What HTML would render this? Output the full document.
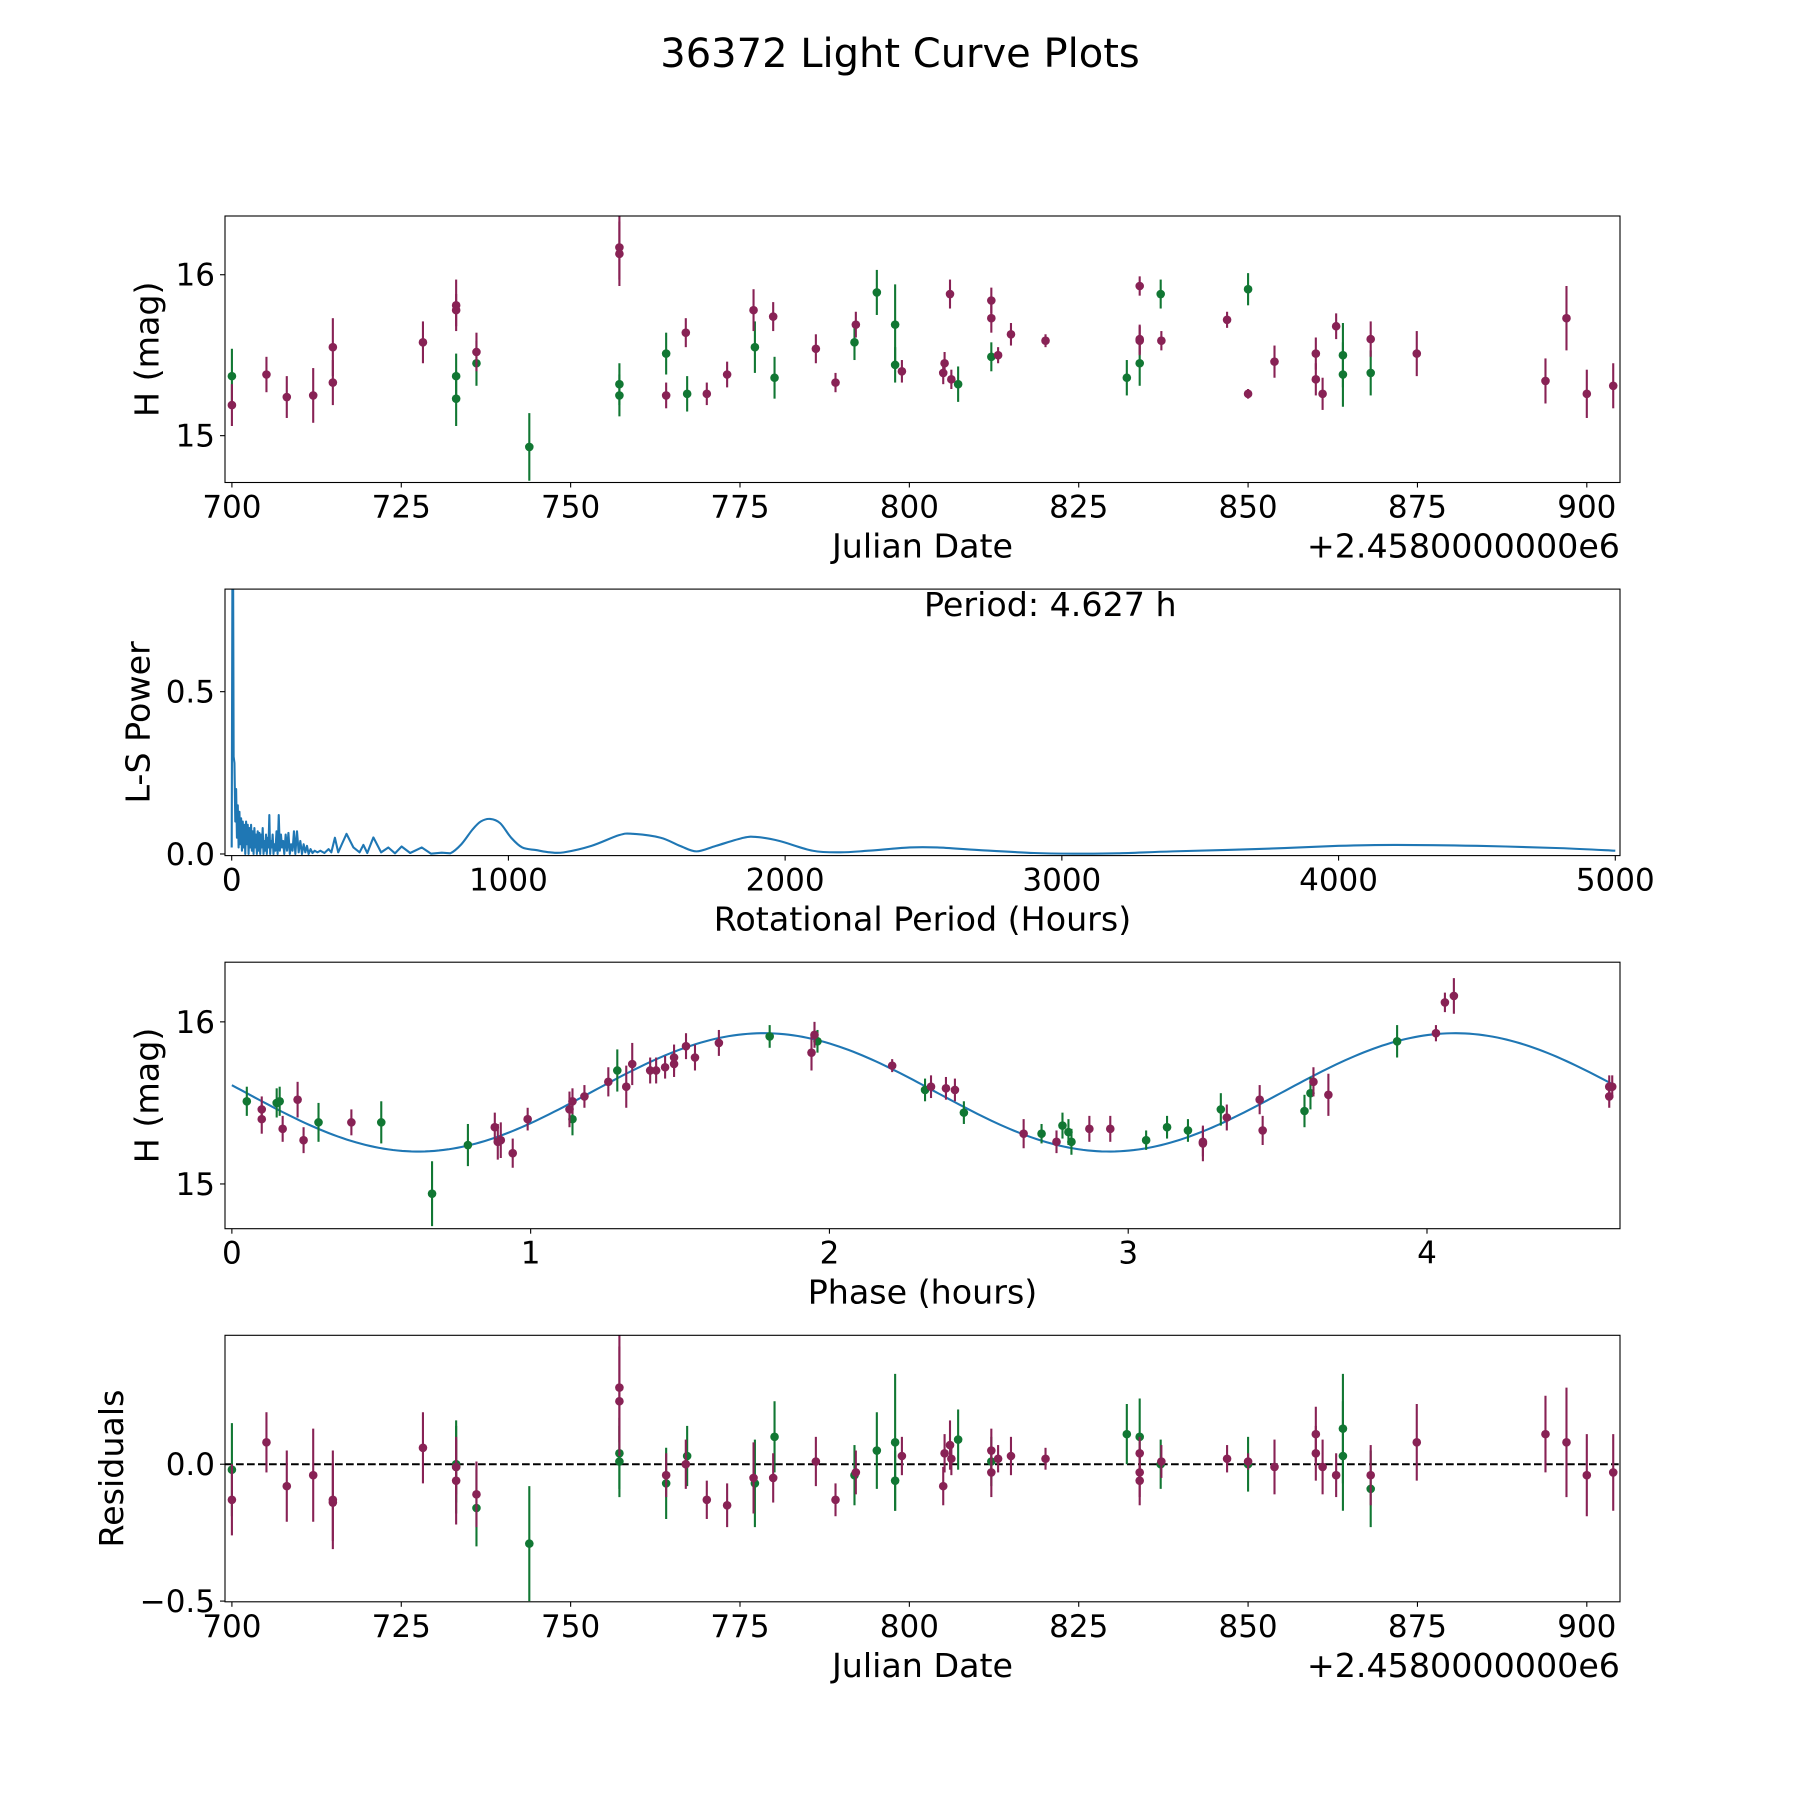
<!DOCTYPE html>
<html><head><meta charset="utf-8"><style>
html,body{margin:0;padding:0;background:#fff;}
svg{display:block;font-family:"DejaVu Sans","Liberation Sans",sans-serif;}
</style></head>
<body>
<svg id="fig" xmlns="http://www.w3.org/2000/svg" width="1800" height="1800" viewBox="0 0 1800 1800">
<rect x="0" y="0" width="1800" height="1800" fill="#fff"/>
<text x="900" y="67" font-size="40" text-anchor="middle">36372 Light Curve Plots</text>
</svg>
<script>
// ---------- Data: light curve (Julian Date offset, H mag, error) ----------
const greenDate = [700.0,733.1,733.1,736.1,743.9,757.2,757.2,764.1,767.2,777.2,780.1,791.9,795.2,797.9,797.9,807.2,812.1,832.1,834.0,837.1,850.0,864.0,864.0,868.1];
const greenMag  = [15.37,15.37,15.23,15.45,14.93,15.32,15.25,15.51,15.26,15.55,15.36,15.58,15.89,15.69,15.44,15.32,15.49,15.36,15.45,15.88,15.91,15.50,15.38,15.39];
const greenErr  = [0.17,0.14,0.17,0.14,0.21,0.13,0.13,0.13,0.11,0.16,0.13,0.11,0.14,0.25,0.11,0.11,0.09,0.11,0.14,0.09,0.10,0.20,0.20,0.14];
const greenRes  = [-0.02,0.0,-0.01,-0.16,-0.29,0.04,0.01,-0.07,0.03,-0.07,0.10,-0.04,0.05,0.08,-0.06,0.09,0.01,0.11,0.10,0.0,0.0,0.13,0.03,-0.09];

const purpleDate = [700.0,705.1,708.1,712.0,714.9,714.9,728.2,733.1,733.1,736.1,757.2,757.2,764.1,767.0,770.1,773.1,777.0,779.9,786.2,789.1,792.1,798.9,805.2,805.0,806.0,806.2,812.1,812.1,813.1,815.0,820.1,834.0,834.0,834.0,837.2,846.9,850.0,853.9,860.0,860.0,861.0,863.0,868.1,874.9,893.9,897.0,900.0,903.9];
const purpleMag  = [15.19,15.38,15.24,15.25,15.33,15.55,15.58,15.81,15.78,15.52,16.17,16.13,15.25,15.64,15.26,15.38,15.78,15.74,15.54,15.33,15.69,15.40,15.45,15.39,15.88,15.35,15.84,15.73,15.50,15.63,15.59,15.93,15.60,15.59,15.59,15.72,15.26,15.46,15.51,15.35,15.26,15.68,15.60,15.51,15.34,15.73,15.26,15.31];
const purpleErr  = [0.13,0.11,0.13,0.17,0.14,0.18,0.13,0.16,0.10,0.12,0.20,0.20,0.08,0.09,0.07,0.08,0.13,0.09,0.09,0.06,0.08,0.07,0.07,0.07,0.09,0.06,0.08,0.09,0.05,0.07,0.04,0.06,0.09,0.09,0.06,0.05,0.03,0.10,0.10,0.10,0.10,0.08,0.11,0.14,0.14,0.20,0.15,0.14];
const purpleRes  = [-0.13,0.08,-0.08,-0.04,-0.14,-0.13,0.06,-0.06,-0.01,-0.11,0.28,0.23,-0.04,0.0,-0.13,-0.15,-0.05,-0.05,0.01,-0.13,-0.03,0.03,0.04,-0.08,0.07,0.02,0.05,-0.03,0.02,0.03,0.02,0.04,-0.03,-0.06,0.01,0.02,0.01,-0.01,0.11,0.04,-0.01,-0.04,-0.04,0.08,0.11,0.08,-0.04,-0.03];

// ---------- Data: phased light curve ----------
const greenPhase = [0.05,0.15,0.16,0.29,0.50,0.79,0.67,1.14,1.29,1.80,1.96,2.32,2.45,2.71,2.78,2.81,2.80,3.06,3.13,3.20,3.31,3.59,3.61,3.90];
const greenPMag  = [15.51,15.50,15.51,15.38,15.38,15.24,14.94,15.40,15.70,15.91,15.88,15.58,15.44,15.31,15.36,15.26,15.32,15.27,15.35,15.33,15.46,15.45,15.56,15.88];
const greenPErr  = [0.09,0.09,0.09,0.12,0.13,0.13,0.20,0.10,0.13,0.07,0.07,0.07,0.07,0.06,0.08,0.08,0.08,0.06,0.07,0.07,0.10,0.10,0.10,0.10];
const purplePhase = [0.10,0.10,0.17,0.22,0.24,0.40,0.88,0.89,0.90,0.94,0.99,1.13,1.14,1.18,1.26,1.32,1.34,1.40,1.42,1.45,1.48,1.48,1.52,1.55,1.63,1.94,1.95,2.21,2.34,2.39,2.42,2.65,2.76,2.87,2.94,3.25,3.25,3.33,3.44,3.45,3.62,3.67,4.03,4.06,4.09,4.61,4.61,4.62];
const purplePMag  = [15.46,15.40,15.34,15.52,15.27,15.38,15.35,15.26,15.27,15.19,15.40,15.46,15.51,15.54,15.63,15.60,15.74,15.70,15.70,15.72,15.74,15.78,15.85,15.78,15.87,15.81,15.92,15.73,15.60,15.59,15.58,15.31,15.26,15.34,15.34,15.26,15.25,15.41,15.52,15.33,15.63,15.55,15.93,16.12,16.16,15.60,15.54,15.60];
const purplePErr  = [0.08,0.09,0.08,0.11,0.08,0.08,0.09,0.11,0.11,0.09,0.07,0.11,0.08,0.07,0.09,0.13,0.13,0.08,0.08,0.07,0.08,0.08,0.08,0.08,0.08,0.11,0.08,0.04,0.07,0.07,0.07,0.09,0.07,0.08,0.08,0.09,0.11,0.08,0.09,0.09,0.09,0.13,0.05,0.06,0.11,0.07,0.07,0.07];
// Fit model (fourier): mean, amplitude, peak phase, period (h)
const fitMean = [15.565];
const fitAmp = [0.365];
const fitPeak = [1.78];
const fitPeriod = [2.3135];

// ---------- Data: Lomb-Scargle periodogram ----------
const lsPeriod = [0,3,5,7,10,13,16,19,22,25,28,31,34,37,40,43,46,49,52,55,58,61,64,67,70,73,76,79,82,85,88,91,94,97,100,103,106,109,112,115,118,121,124,127,130,133,136,139,142,145,148,151,154,158,162,166,170,174,178,182,186,190,195,200,205,210,215,220,225,230,236,242,248,254,260,266,272,278,285,292,300,310,320,335,350,360,373,385,398,415,440,462,476,490,512,540,566,590,614,645,687,720,759,790,830,870,900,934,970,1010,1050,1100,1150,1200,1300,1400,1450,1550,1620,1680,1750,1850,1900,1980,2100,2200,2300,2450,2550,2700,2900,3050,3200,3400,3700,4000,4200,4500,4800,5000];
const lsPower  = [0.02,1.0,0.9,0.3,0.28,0.1,0.2,0.05,0.15,0.02,0.13,0.03,0.11,0.01,0.1,0.02,0.09,0.0,0.1,0.03,0.09,0.0,0.08,0.02,0.09,0.01,0.07,0.0,0.08,0.02,0.06,0.0,0.07,0.01,0.065,0.0,0.06,0.02,0.08,0.0,0.04,0.01,0.06,0.0,0.05,0.02,0.12,0.0,0.04,0.02,0.06,0.0,0.03,0.01,0.07,0.0,0.12,0.01,0.06,0.02,0.04,0.0,0.06,0.01,0.065,0.0,0.03,0.01,0.07,0.0,0.07,0.005,0.04,0.0,0.03,0.005,0.025,0.0,0.015,0.003,0.01,0.005,0.01,0.003,0.015,0.005,0.05,0.005,0.03,0.062,0.02,0.005,0.028,0.003,0.051,0.005,0.02,0.002,0.023,0.003,0.02,0.001,0.004,0.002,0.03,0.075,0.1,0.108,0.095,0.05,0.02,0.012,0.005,0.005,0.025,0.058,0.062,0.05,0.025,0.008,0.025,0.05,0.052,0.04,0.01,0.005,0.01,0.02,0.02,0.012,0.003,0.001,0.002,0.008,0.015,0.025,0.028,0.025,0.018,0.01];

// ---------- Tick labels ----------
const dateTicks = [700,725,750,775,800,825,850,875,900];
const magTicks = [15,16];
const lsXTicks = [0,1000,2000,3000,4000,5000];
const lsYTicks = [0.0,0.5];
const phaseTicks = [0,1,2,3,4];
const resTicks = [-0.5,0.0];

const NS = 'http://www.w3.org/2000/svg';
const svg = document.getElementById('fig');
const PURPLE = '#882255', GREEN = '#117733', BLUE = '#1f77b4';
const L = 225, R = 1620;

function mk(tag, attrs, parent) {
  const e = document.createElementNS(NS, tag);
  for (const k in attrs) e.setAttribute(k, attrs[k]);
  (parent || svg).appendChild(e);
  return e;
}
function scale(d0, d1, r0, r1) { return v => r0 + (v - d0) * (r1 - r0) / (d1 - d0); }

function makeAxes(name, top, bot, xlim, ylim) {
  const g = mk('g', {});
  
  
  const sx = scale(xlim[0], xlim[1], L, R);
  const sy = scale(ylim[0], ylim[1], bot, top);
  const clipId = name + '-clip';
  const cp = mk('clipPath', {id: clipId}, g);
  mk('rect', {x: L, y: top, width: R - L, height: bot - top}, cp);
  const plot = mk('g', {'clip-path': 'url(#' + clipId + ')'}, g);
  return {g, plot, sx, sy, top, bot};
}
function frame(ax) {
  const f = mk('rect', {x: L, y: ax.top, width: R - L, height: ax.bot - ax.top, fill: 'none', stroke: '#000', 'stroke-width': 1.1}, ax.g);
  
  
}
function xTicks(ax, ticks, fmt) {
  ticks.forEach(t => {
    const x = ax.sx(t);
    mk('line', {x1: x, x2: x, y1: ax.bot, y2: ax.bot + 5, stroke: '#000', 'stroke-width': 1.1}, ax.g);
    const tx = mk('text', {x: x, y: ax.bot + 35, 'font-size': 31, 'text-anchor': 'middle'}, ax.g);
    
    
    tx.textContent = fmt(t);
  });
}
function yTicks(ax, ticks, fmt) {
  ticks.forEach(t => {
    const y = ax.sy(t);
    mk('line', {x1: L - 5, x2: L, y1: y, y2: y, stroke: '#000', 'stroke-width': 1.1}, ax.g);
    const tx = mk('text', {x: L - 10, y: y + 11, 'font-size': 31, 'text-anchor': 'end'}, ax.g);
    
    
    tx.textContent = fmt(t);
  });
}
function xLabel(ax, text, name) {
  const t = mk('text', {x: (L + R) / 2, y: ax.bot + 75, 'font-size': 33.3, 'text-anchor': 'middle'}, ax.g);
  
  
  t.textContent = text;
}
function yLabel(ax, text, x, name) {
  const cy = (ax.top + ax.bot) / 2;
  const t = mk('text', {x: x, y: cy, 'font-size': 33.3, 'text-anchor': 'middle', transform: 'rotate(-90 ' + x + ' ' + cy + ')', 'dominant-baseline': 'central'}, ax.g);
  
  
  t.textContent = text;
}
function offsetText(ax) {
  const t = mk('text', {x: R, y: ax.bot + 75, 'font-size': 33.3, 'text-anchor': 'end'}, ax.g);
  
  
  t.textContent = '+2.4580000000e6';
}
function errPoints(ax, xs, ys, es, color, name) {
  const g = mk('g', {}, ax.plot);
  
  
  xs.forEach((xv, i) => {
    const x = ax.sx(xv);
    mk('line', {x1: x, x2: x, y1: ax.sy(ys[i] - es[i]), y2: ax.sy(ys[i] + es[i]), stroke: color, 'stroke-width': 2.1}, g);
    const c = mk('circle', {cx: x, cy: ax.sy(ys[i]), r: 4.3, fill: color}, g);
    
    
  });
}
const fmtNum = v => (v < 0 ? '\u2212' : '') + Math.abs(v).toFixed(1);
const fmtInt = v => String(v);

// Panel 1: light curve
const DATE_LIM = [698.98, 904.9];
const ax1 = makeAxes('light-curve-axes', 216, 482.5, DATE_LIM, [14.709, 16.365]);
errPoints(ax1, greenDate, greenMag, greenErr, GREEN, 'green-series');
errPoints(ax1, purpleDate, purpleMag, purpleErr, PURPLE, 'purple-series');
frame(ax1); xTicks(ax1, dateTicks, fmtInt); yTicks(ax1, magTicks, fmtInt);
xLabel(ax1, 'Julian Date', 'x-axis-title'); offsetText(ax1);
yLabel(ax1, 'H (mag)', 147, 'y-axis-title');

// Panel 2: periodogram (smoothed Catmull-Rom through sampled values)
const ax2 = makeAxes('periodogram-axes', 589.1, 855.6, [-24.2, 5017], [-0.005, 0.816]);
const P = lsPeriod.map((p, i) => [ax2.sx(p), ax2.sy(lsPower[i])]);
let d = 'M' + P[0][0].toFixed(2) + ' ' + P[0][1].toFixed(2);
for (let i = 0; i < P.length - 1; i++) {
  const p0 = P[Math.max(0, i - 1)], p1 = P[i], p2 = P[i + 1], p3 = P[Math.min(P.length - 1, i + 2)];
  if (lsPeriod[i] < 790) { d += 'L' + p2[0].toFixed(2) + ' ' + p2[1].toFixed(2); continue; }
  const c1 = [p1[0] + (p2[0] - p0[0]) / 6, p1[1] + (p2[1] - p0[1]) / 6];
  const c2 = [p2[0] - (p3[0] - p1[0]) / 6, p2[1] - (p3[1] - p1[1]) / 6];
  d += 'C' + c1[0].toFixed(2) + ' ' + c1[1].toFixed(2) + ' ' + c2[0].toFixed(2) + ' ' + c2[1].toFixed(2) + ' ' + p2[0].toFixed(2) + ' ' + p2[1].toFixed(2);
}
const ln = mk('path', {d: d, fill: 'none', stroke: BLUE, 'stroke-width': 2.1, 'stroke-linejoin': 'round'}, ax2.plot);


frame(ax2); xTicks(ax2, lsXTicks, fmtInt); yTicks(ax2, lsYTicks, fmtNum);
xLabel(ax2, 'Rotational Period (Hours)', 'x-axis-title');
yLabel(ax2, 'L-S Power', 138, 'y-axis-title');
const pt = mk('text', {x: 924, y: 616, 'font-size': 33.3}, ax2.g);


pt.textContent = 'Period: 4.627 h';

// Panel 3: phased
const ax3 = makeAxes('phase-axes', 962.2, 1228.7, [-0.023, 4.646], [14.724, 16.368]);
let d3 = '';
for (let i = 0; i <= 300; i++) {
  const x = 4.62 * i / 300;
  const y = fitMean[0] + fitAmp[0] * Math.cos(2 * Math.PI * (x - fitPeak[0]) / fitPeriod[0]);
  d3 += (i ? 'L' : 'M') + ax3.sx(x).toFixed(2) + ' ' + ax3.sy(y).toFixed(2);
}
const fit = mk('path', {d: d3, fill: 'none', stroke: BLUE, 'stroke-width': 2.1}, ax3.plot);


errPoints(ax3, greenPhase, greenPMag, greenPErr, GREEN, 'green-phase-series');
errPoints(ax3, purplePhase, purplePMag, purplePErr, PURPLE, 'purple-phase-series');
frame(ax3); xTicks(ax3, phaseTicks, fmtInt); yTicks(ax3, magTicks, fmtInt);
xLabel(ax3, 'Phase (hours)', 'x-axis-title');
yLabel(ax3, 'H (mag)', 147, 'y-axis-title');

// Panel 4: residuals
const ax4 = makeAxes('residuals-axes', 1335.3, 1601.8, DATE_LIM, [-0.5026, 0.471]);
const zl = mk('line', {x1: L, x2: R, y1: ax4.sy(0), y2: ax4.sy(0), stroke: '#000', 'stroke-width': 2, 'stroke-dasharray': '7.7 3.3'}, ax4.plot);


errPoints(ax4, greenDate, greenRes, greenErr, GREEN, 'green-residuals');
errPoints(ax4, purpleDate, purpleRes, purpleErr, PURPLE, 'purple-residuals');
frame(ax4); xTicks(ax4, dateTicks, fmtInt); yTicks(ax4, resTicks, fmtNum);
xLabel(ax4, 'Julian Date', 'x-axis-title'); offsetText(ax4);
yLabel(ax4, 'Residuals', 111.5, 'y-axis-title');
</script>
</body></html>
